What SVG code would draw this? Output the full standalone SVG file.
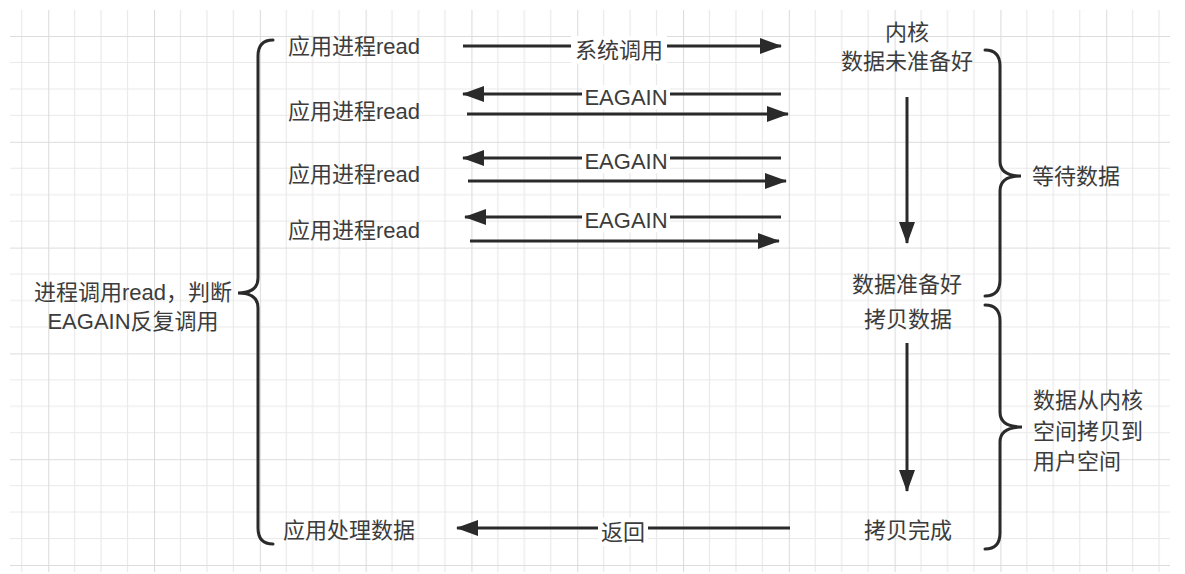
<svg xmlns="http://www.w3.org/2000/svg" width="1185" height="574" viewBox="0 0 1185 574">
<style>
text{font-family:"Liberation Sans","Noto Sans CJK SC",sans-serif;font-size:22px;fill:#3c3c3c;dominant-baseline:central}
.c{text-anchor:middle}
.ln{stroke:#2a2a2a;stroke-width:3;fill:none}
.br{stroke:#2a2a2a;stroke-width:3;fill:none;stroke-linecap:round}
.lb{fill:#fff}
</style>
<defs>
<pattern id="grid" patternUnits="userSpaceOnUse" x="154" y="36" width="105.8" height="105.8">
<path d="M26.45,0V105.8M52.9,0V105.8M79.35,0V105.8M0,26.45H105.8M0,52.9H105.8M0,79.35H105.8" stroke="#e9e9e9" stroke-width="1.2" fill="none"/>
<path d="M0.5,0V105.8M0,0.5H105.8" stroke="#dcdcdc" stroke-width="1.2" fill="none"/>
</pattern>
<marker id="ah" viewBox="0 0 22 16" refX="21" refY="8" markerWidth="22" markerHeight="16" markerUnits="userSpaceOnUse" orient="auto">
<path d="M0,0L22,8L0,16Z" fill="#2a2a2a"/>
</marker>
</defs>
<rect width="1185" height="574" fill="#fff"/>
<rect x="10" y="10" width="1160" height="562" fill="url(#grid)"/>

<g id="connectors">
<line id="c1" class="ln" x1="463" y1="46" x2="781" y2="46" marker-end="url(#ah)"/>
<line id="c2" class="ln" x1="781" y1="94" x2="463" y2="94" marker-end="url(#ah)"/>
<line id="c3" class="ln" x1="467" y1="114" x2="788" y2="114" marker-end="url(#ah)"/>
<line id="c4" class="ln" x1="781" y1="158" x2="463" y2="158" marker-end="url(#ah)"/>
<line id="c5" class="ln" x1="468" y1="181" x2="786" y2="181" marker-end="url(#ah)"/>
<line id="c6" class="ln" x1="781" y1="217" x2="465" y2="217" marker-end="url(#ah)"/>
<line id="c7" class="ln" x1="470" y1="241" x2="779" y2="241" marker-end="url(#ah)"/>
<line id="c8" class="ln" x1="790" y1="528" x2="457" y2="528" marker-end="url(#ah)"/>
<line id="v1" class="ln" x1="907" y1="97" x2="907" y2="243" marker-end="url(#ah)"/>
<line id="v2" class="ln" x1="907" y1="343" x2="907" y2="491" marker-end="url(#ah)"/>
<rect class="lb" x="571" y="36" width="96" height="28"/>
<text class="c" x="619" y="50">系统调用</text>
<rect class="lb" x="582" y="85" width="88" height="24"/>
<text class="c" x="626" y="97">EAGAIN</text>
<rect class="lb" x="582" y="149" width="88" height="24"/>
<text class="c" x="626" y="161">EAGAIN</text>
<rect class="lb" x="582" y="208" width="88" height="24"/>
<text class="c" x="626" y="220">EAGAIN</text>
<rect class="lb" x="598" y="518" width="50" height="28"/>
<text class="c" x="623" y="532">返回</text>
</g>

<g id="brace-left">
<path class="br" d="M273,40 Q258,40 258,56 L258,278 Q258,293 238,293 Q258,293 258,308 L258,528 Q258,544 273,544"/>
<text class="c" x="133" y="292">进程调用read，判断</text>
<text class="c" x="133" y="321">EAGAIN反复调用</text>
</g>

<g id="app-read-1"><text x="288" y="46">应用进程read</text></g>
<g id="app-read-2"><text x="288" y="111">应用进程read</text></g>
<g id="app-read-3"><text x="288" y="174">应用进程read</text></g>
<g id="app-read-4"><text x="288" y="230">应用进程read</text></g>
<g id="app-process"><text x="283" y="530">应用处理数据</text></g>

<g id="kernel-notready">
<text class="c" x="907" y="32">内核</text>
<text class="c" x="907" y="61">数据未准备好</text>
</g>
<g id="data-ready"><text class="c" x="907" y="284">数据准备好</text></g>
<g id="copy-data"><text class="c" x="908" y="319">拷贝数据</text></g>
<g id="copy-done"><text class="c" x="908" y="530">拷贝完成</text></g>

<g id="brace-wait">
<path class="br" d="M985,50 Q1000,50 1000,66 L1000,161 Q1000,176 1021,176 Q1000,176 1000,191 L1000,280 Q1000,296 985,296"/>
<text x="1032" y="176">等待数据</text>
</g>
<g id="brace-copy">
<path class="br" d="M985,305 Q1000,305 1000,321 L1000,412 Q1000,427 1022,427 Q1000,427 1000,442 L1000,533 Q1000,549 985,549"/>
<text x="1033" y="400">数据从内核</text>
<text x="1033" y="431">空间拷贝到</text>
<text x="1033" y="461">用户空间</text>
</g>
</svg>
